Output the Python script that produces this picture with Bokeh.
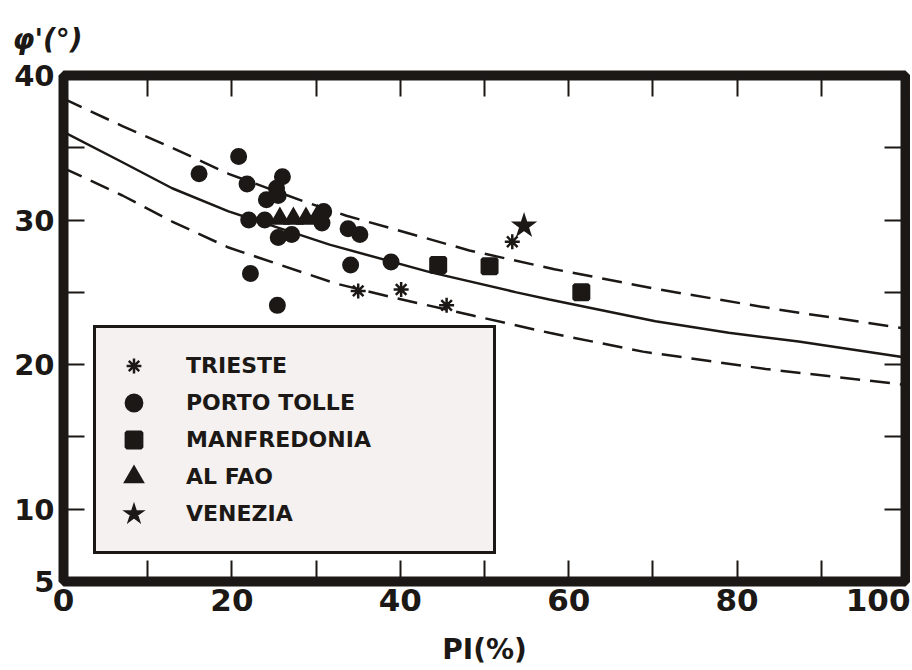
from bokeh.plotting import figure
from bokeh.models import (Range1d, LinearAxis, FixedTicker, Legend, LegendItem)
from bokeh.embed import file_html
from bokeh.resources import INLINE

# ---- data ----
trieste_pi = [35.0, 40.1, 45.5, 53.3]
trieste_phi = [25.1, 25.2, 24.1, 28.5]

porto_pi = [16.1, 20.8, 21.8, 26.0, 24.1, 25.5, 25.3, 22.0, 23.9, 30.7, 30.9,
            25.5, 27.1, 33.8, 35.2, 38.9, 34.1, 22.2, 25.4]
porto_phi = [33.2, 34.4, 32.5, 33.0, 31.4, 31.7, 32.2, 30.0, 30.0, 29.8, 30.6,
             28.8, 29.0, 29.4, 29.0, 27.1, 26.9, 26.3, 24.1]

manf_pi = [44.5, 50.6, 61.5]
manf_phi = [26.9, 26.8, 25.0]

alfao_pi = [25.7, 27.3, 28.8, 30.2]
alfao_phi = [30.1, 30.1, 30.1, 30.3]

venezia_pi = [54.7]
venezia_phi = [29.6]

fit_pi = [0, 7, 12.9, 19.6, 31.6, 43.5, 53.8, 57.7, 70.3, 79.0, 87.3, 100]
fit_phi = [36.1, 34.0, 32.2, 30.6, 28.3, 26.4, 25.0, 24.5, 23.0, 22.2, 21.6, 20.5]

upper_pi = [0, 7, 12.9, 19.6, 28.5, 33.6, 48.2, 58.3, 70.7, 85.0, 100]
upper_phi = [38.4, 36.5, 35.0, 33.2, 31.3, 30.3, 27.9, 26.6, 25.2, 23.8, 22.5]

lower_pi = [0, 7, 12.9, 19.6, 32.4, 39.5, 48.6, 57.7, 68.8, 83.4, 100]
lower_phi = [33.6, 31.7, 29.9, 28.1, 25.6, 24.6, 23.4, 22.2, 20.9, 19.7, 18.6]

x_labeled_ticks = [0, 20, 40, 60, 80, 100]
x_plain_ticks = [10, 30, 50, 70, 90]
y_labeled_ticks = [5, 10, 20, 30, 40]
y_plain_ticks = [15, 25, 35]

series_labels = ["TRIESTE", "PORTO TOLLE", "MANFREDONIA", "AL FAO", "VENEZIA"]
y_title = "φ'(°)"
x_title = "PI(%)"

INK = "#1b1816"

p = figure(width=910, height=668, x_range=Range1d(0, 100), y_range=Range1d(5, 40),
           output_backend="svg", toolbar_location=None,
           min_border_left=63, min_border_right=5, min_border_top=73, min_border_bottom=85,
           background_fill_color="white", border_fill_color="white")
p.xgrid.visible = False
p.ygrid.visible = False
p.outline_line_color = INK
p.outline_line_width = 10
p.outline_line_alpha = 1.0

# the y quantity is written as a heading at the top left, as in the original
p.title.text = y_title
p.title.align = "left"
p.title.offset = -51
p.title.standoff = 40
p.title.text_font = "DejaVu Sans"
p.title.text_font_style = "bold italic"
p.title.text_font_size = "28px"
p.title.text_color = INK


def style_axis(ax, major, minor):
    ax.ticker = FixedTicker(ticks=major, minor_ticks=minor)
    ax.axis_line_color = None
    ax.major_tick_in = 21
    ax.major_tick_out = 0
    ax.minor_tick_in = 21
    ax.minor_tick_out = 0
    ax.major_tick_line_width = 2
    ax.minor_tick_line_width = 2
    ax.major_tick_line_color = INK
    ax.minor_tick_line_color = INK


xb = p.xaxis[0]
style_axis(xb, x_labeled_ticks, x_plain_ticks)
xb.major_label_text_font = "DejaVu Sans"
xb.major_label_text_font_style = "bold"
xb.major_label_text_font_size = "31px"
xb.major_label_text_color = INK
xb.major_label_standoff = 7
xb.axis_label = x_title
xb.axis_label_text_font = "DejaVu Sans"
xb.axis_label_text_font_style = "bold"
xb.axis_label_text_font_size = "28px"
xb.axis_label_text_color = INK
xb.axis_label_standoff = 19

yl = p.yaxis[0]
style_axis(yl, y_labeled_ticks, y_plain_ticks)
yl.major_label_text_font = "DejaVu Sans"
yl.major_label_text_font_style = "bold"
yl.major_label_text_font_size = "29px"
yl.major_label_text_color = INK
yl.major_label_standoff = 9

# top and right: ticks only, no labels
xt = LinearAxis()
style_axis(xt, [], x_labeled_ticks + x_plain_ticks)
xt.major_label_standoff = 0
p.add_layout(xt, "above")

yr = LinearAxis()
style_axis(yr, [], y_labeled_ticks + y_plain_ticks)
yr.major_label_standoff = 0
p.add_layout(yr, "right")

# fitted curves
p.line(upper_pi, upper_phi, line_color=INK, line_width=2.5, line_dash="20 10")
p.line(lower_pi, lower_phi, line_color=INK, line_width=2.5, line_dash="20 10")
p.line(fit_pi, fit_phi, line_color=INK, line_width=2.5)

# data points (thick outlines so the legend samples come out large enough)
r_tri = p.scatter(trieste_pi, trieste_phi, marker="asterisk", size=15,
                  line_color=INK, line_width=2.5)
r_por = p.scatter(porto_pi, porto_phi, marker="circle", size=13,
                  fill_color=INK, line_color=INK, line_width=4)
r_man = p.scatter(manf_pi, manf_phi, marker="square", size=14,
                  fill_color=INK, line_color=INK, line_width=4)
r_alf = p.scatter(alfao_pi, alfao_phi, marker="triangle", size=14,
                  fill_color=INK, line_color=INK, line_width=4, line_join="miter")
r_ven = p.scatter(venezia_pi, venezia_phi, marker="star", size=18,
                  fill_color=INK, line_color=INK, line_width=3, line_join="miter")

renderers = [r_tri, r_por, r_man, r_alf, r_ven]
legend = Legend(
    items=[LegendItem(label=lab, renderers=[r]) for lab, r in zip(series_labels, renderers)],
    location=(30, 27),
    glyph_width=37, glyph_height=37, spacing=0, padding=19,
    label_standoff=34, label_width=288, label_height=37,
    label_text_font="DejaVu Sans", label_text_font_style="bold",
    label_text_font_size="22px", label_text_color=INK,
    border_line_color=INK, border_line_width=3.5, border_line_alpha=1.0,
    background_fill_color="#f4f1f0", background_fill_alpha=1.0,
    margin=0,
)
p.add_layout(legend)

open("out.html", "w").write(file_html(p, INLINE))
